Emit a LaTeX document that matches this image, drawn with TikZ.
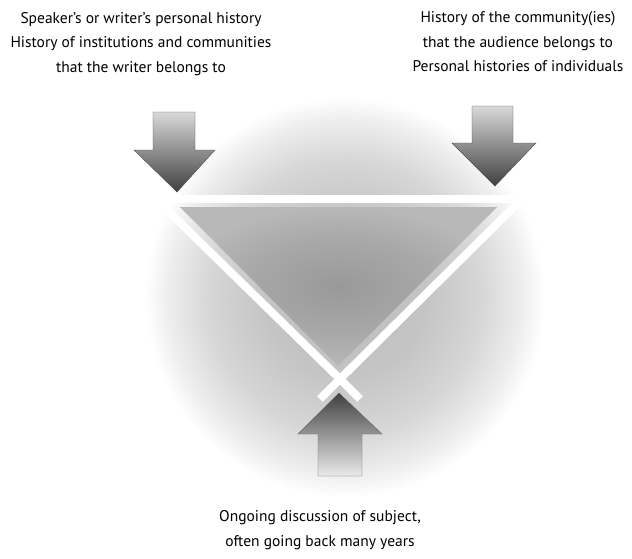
\documentclass[tikz,border=0pt]{standalone}
\usepackage{fontspec}
\setmainfont{PT Sans}
\pgfdeclareradialshading{glow}{\pgfpoint{0bp}{0bp}}{%
  color(0bp)=(black!26); color(10bp)=(black!23); color(17bp)=(black!16);
  color(22bp)=(black!7); color(25bp)=(white); color(50bp)=(white)}
\pgfdeclareradialshading{inner}{\pgfpoint{0bp}{0bp}}{%
  color(0bp)=(black!40); color(15bp)=(black!34); color(25bp)=(black!28); color(50bp)=(black!28)}
\tikzset{
  lbl/.style={align=center, font=\fontsize{15.5}{24.5}\selectfont, inner sep=0pt},
  gap/.style={white, line width=8pt},
  arrowdown/.style={top color=black!15, bottom color=black!75, draw=black!70, line width=0.4pt},
  arrowup/.style={bottom color=black!8, top color=black!75, draw=black!60, line width=0.4pt},
}
\begin{document}
\begin{tikzpicture}[x=1pt,y=-1pt]
\useasboundingbox (0,0) rectangle (632,558);
% background glow
\shade[shading=glow] (345,297) circle (200);
% inner triangle
\coordinate (tl) at (180,207);
\coordinate (tr) at (497,207);
\coordinate (bt) at (338,366);
\shade[shading=inner] (tl) -- (tr) -- (bt) -- cycle;
% white gaps
\coordinate (x) at (340,379);
\coordinate (gl1) at (145,199);
\coordinate (gr1) at (548,199);
\coordinate (dl1) at (160,203);
\coordinate (dl2) at (360,399);
\coordinate (dr1) at (518,203);
\coordinate (dr2) at (320,399);
\draw[gap] (gl1) -- (gr1);
\draw[gap] (dl1) -- (x) -- (dl2);
\draw[gap] (dr1) -- (x) -- (dr2);
% arrows
\path[arrowdown] (153,112) -- (195,112) -- (195,150) -- (215,150) -- (177,192) -- (134,150) -- (153,150) -- cycle;
\path[arrowdown] (472,106) -- (513,106) -- (513,143) -- (536,143) -- (495,186) -- (452,143) -- (472,143) -- cycle;
\path[arrowup] (318,476) -- (362,476) -- (362,434) -- (382,434) -- (339,393) -- (298,434) -- (318,434) -- cycle;
% labels
\node[lbl] (left) at (141,44) {Speaker's or writer's personal history\\History of institutions and communities\\that the writer belongs to};
\node[lbl] (right) at (518,42) {History of the community(ies)\\that the audience belongs to\\Personal histories of individuals};
\node[lbl] (bottom) at (320,530) {Ongoing discussion of subject,\\often going back many years};
\end{tikzpicture}
\end{document}
